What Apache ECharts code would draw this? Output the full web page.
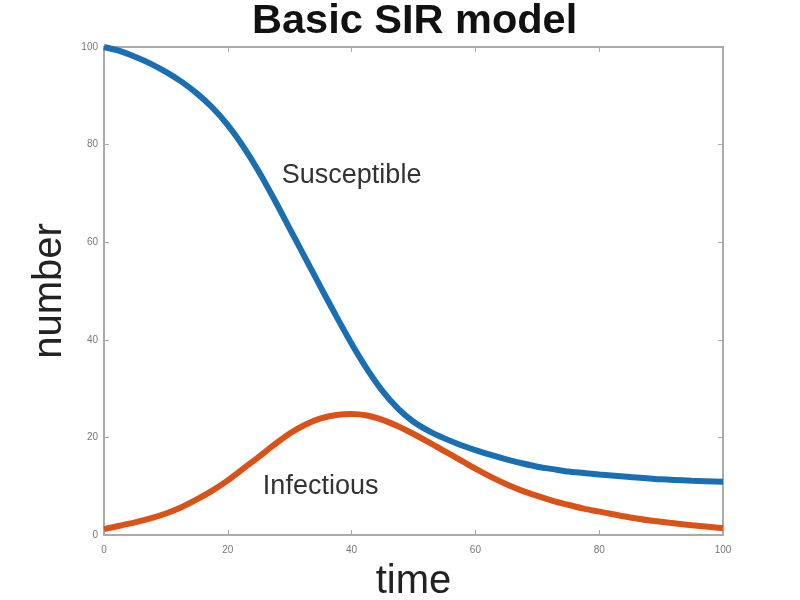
<!DOCTYPE html>
<html>
<head>
<meta charset="utf-8">
<script src="https://cdn.jsdelivr.net/npm/echarts@6/dist/echarts.min.js"></script>
<style>html,body{margin:0;padding:0;background:#fff;}#c{width:800px;height:600px;}</style>
</head>
<body>
<div id="c"></div>
<script>
var time = [0,2.5,5,7.5,10,12.5,15,17.5,20,22.5,25,27.5,30,32.5,35,37.5,40,42.5,45,47.5,50,52.5,55,57.5,60,62.5,65,67.5,70,72.5,75,77.5,80,85,90,95,100];
var susceptible = [100,99.2,98.0,96.6,94.9,92.9,90.5,87.6,84.0,79.6,74.5,68.8,62.8,56.8,50.8,44.9,39.2,34.0,29.5,25.9,23.2,21.3,19.8,18.5,17.4,16.4,15.5,14.7,14.0,13.5,13.0,12.7,12.4,11.9,11.4,11.1,10.9];
var infectious = [1.2,1.9,2.6,3.4,4.4,5.7,7.3,9.1,11.2,13.6,16.0,18.5,20.8,22.6,23.9,24.6,24.8,24.5,23.6,22.3,20.7,19.0,17.2,15.4,13.6,11.9,10.4,9.1,8.0,7.0,6.2,5.4,4.8,3.6,2.7,2.0,1.4];
var xTicks = [0,20,40,60,80,100];
var yTicks = [0,20,40,60,80,100];
var labels = [
  {name: 'Susceptible', t: 40, v: 73.6},
  {name: 'Infectious', t: 35, v: 10}
];

function pairs(xs, ys){ return xs.map(function(x,i){ return [x, ys[i]]; }); }

var axisColor = '#aaaaaa';
var tickLbl = {fontSize: 10, color: '#777', fontFamily: 'Liberation Sans'};

function axisCommon(extra){
  return Object.assign({
    type: 'value', interval: 20,
    axisLine: {show: true, onZero: false, lineStyle: {color: axisColor, width: 2}},
    axisTick: {show: true, inside: true, length: 5, lineStyle: {color: axisColor}},
    splitLine: {show: false}
  }, extra);
}

var chart = echarts.init(document.getElementById('c'));
chart.setOption({
  animation: false,
  backgroundColor: '#fff',
  title: {
    text: 'Basic SIR model', left: 252, top: 1, padding: 0,
    textStyle: {fontSize: 41.5, fontWeight: 'bold', color: '#111', fontFamily: 'Liberation Sans'}
  },
  grid: {left: 104, right: 77, top: 47, bottom: 65, containLabel: false, outerBoundsMode: 'none'},
  xAxis: [axisCommon({
    min: xTicks[0], max: xTicks[xTicks.length-1], position: 'bottom',
    name: 'time', nameLocation: 'middle', nameGap: 27,
    nameTextStyle: {fontSize: 40, color: '#222', fontFamily: 'Liberation Sans', verticalAlign: 'top'},
    axisLabel: Object.assign({margin: 10}, tickLbl)
  }), axisCommon({
    min: xTicks[0], max: xTicks[xTicks.length-1], position: 'top',
    axisLabel: {show: false}
  })],
  yAxis: [axisCommon({
    min: yTicks[0], max: yTicks[yTicks.length-1], position: 'left',
    name: 'number', nameLocation: 'middle', nameGap: 32, nameRotate: 90,
    nameTextStyle: {fontSize: 40, color: '#222', fontFamily: 'Liberation Sans'},
    axisLabel: Object.assign({margin: 6}, tickLbl)
  }), axisCommon({
    min: yTicks[0], max: yTicks[yTicks.length-1], position: 'right',
    axisLabel: {show: false}
  })],
  series: [{
    type: 'line', name: 'Susceptible', data: pairs(time, susceptible),
    smooth: 0.3, showSymbol: false, symbol: 'none',
    lineStyle: {color: '#1a6fb3', width: 6},
    markPoint: {
      symbol: 'circle', symbolSize: 0,
      label: {show: true, formatter: '{b}', fontSize: 27, color: '#333', fontFamily: 'Liberation Sans', position: 'inside'},
      data: [{name: labels[0].name, coord: [labels[0].t, labels[0].v]}]
    }
  }, {
    type: 'line', name: 'Infectious', data: pairs(time, infectious),
    smooth: 0.3, showSymbol: false, symbol: 'none',
    lineStyle: {color: '#d95319', width: 6},
    markPoint: {
      symbol: 'circle', symbolSize: 0,
      label: {show: true, formatter: '{b}', fontSize: 27, color: '#333', fontFamily: 'Liberation Sans', position: 'inside'},
      data: [{name: labels[1].name, coord: [labels[1].t, labels[1].v]}]
    }
  }]
});
</script>
</body>
</html>
